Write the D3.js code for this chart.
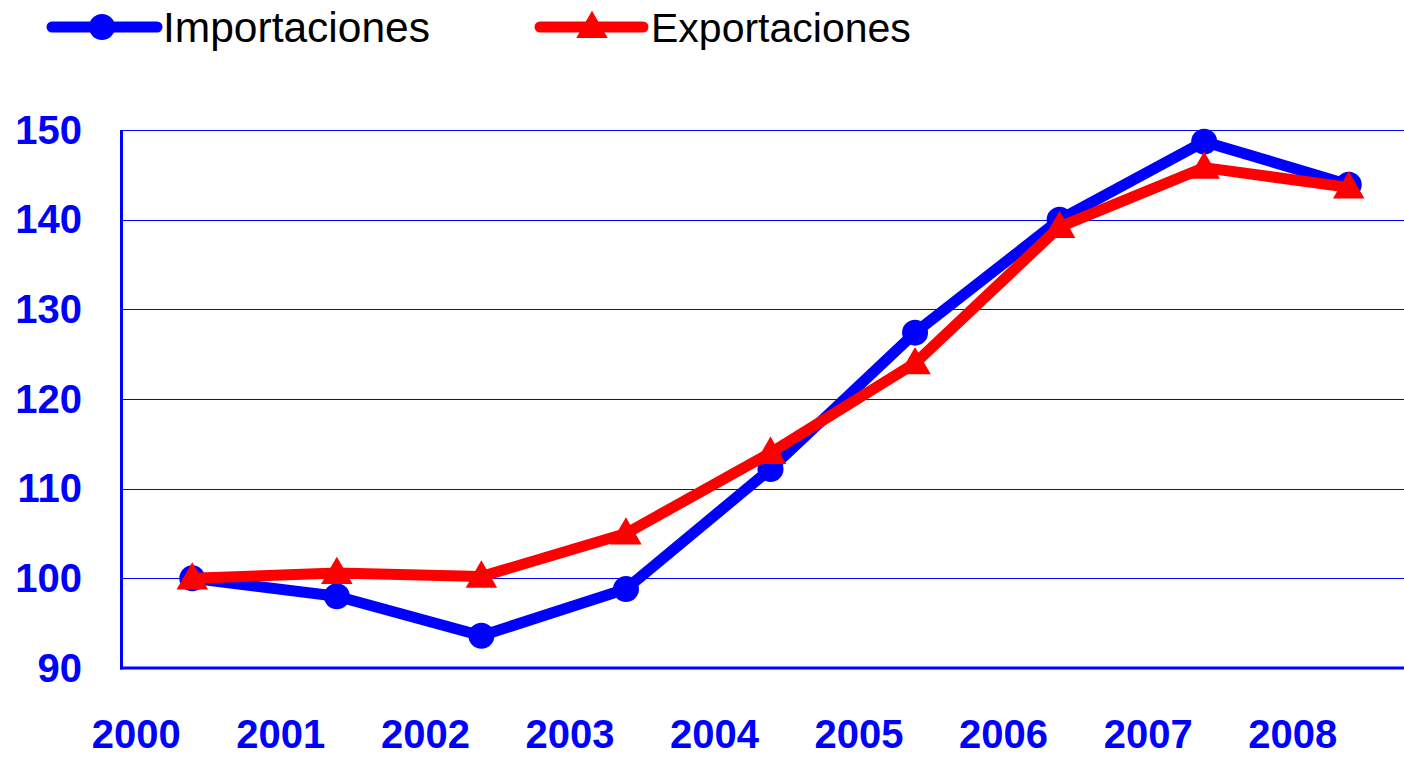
<!DOCTYPE html>
<html>
<head>
<meta charset="utf-8">
<script src="https://cdn.jsdelivr.net/npm/d3@7"></script>
<style>
html,body{margin:0;padding:0;background:#fff;overflow:hidden;}
svg{display:block;}
</style>
</head>
<body>
<svg id="chart" width="1404" height="757"></svg>
<script>
const years = ["2000","2001","2002","2003","2004","2005","2006","2007","2008"];
const importaciones = [100.0, 98.0, 93.6, 98.8, 112.2, 127.4, 140.0, 148.7, 143.9];
const exportaciones = [100.0, 100.6, 100.2, 105.0, 114.0, 124.0, 139.2, 145.8, 143.6];
const yTicks = [90, 100, 110, 120, 130, 140, 150];
const seriesNames = ["Importaciones", "Exportaciones"];

const svg = d3.select("#chart");
const plotLeft = 120, plotRight = 1421, plotTop = 130, plotBottom = 668;
const blue = "#0000ff", red = "#ff0000";

const x = d3.scaleBand().domain(years).range([plotLeft, plotRight]);
const xc = d => x(d) + x.bandwidth() / 2;
const y = d3.scaleLinear().domain([90, 150]).range([plotBottom, plotTop]);

// gridlines
svg.append("g").selectAll("line").data(yTicks.filter(t => t > 90)).join("line")
  .attr("x1", plotLeft).attr("x2", 1404)
  .attr("y1", d => Math.round(y(d)) + 0.5).attr("y2", d => Math.round(y(d)) + 0.5)
  .attr("stroke", blue).attr("stroke-width", 1.2);

// y axis labels
const yAxis = d3.axisLeft(y).tickValues(yTicks).tickSize(0).tickPadding(38).tickFormat(d3.format("d"));
const yg = svg.append("g").attr("transform", `translate(${plotLeft},0)`).call(yAxis);
yg.select(".domain").remove();
yg.selectAll("text").attr("fill", blue).attr("font-family", "Liberation Sans, Arial, sans-serif")
  .attr("font-size", 40).attr("font-weight", "bold").attr("dy", "0.33em");

// axis lines
svg.append("line").attr("x1", plotLeft + 1.5).attr("x2", plotLeft + 1.5)
  .attr("y1", plotTop).attr("y2", plotBottom + 1.5).attr("stroke", blue).attr("stroke-width", 3);
svg.append("line").attr("x1", plotLeft).attr("x2", 1404)
  .attr("y1", plotBottom).attr("y2", plotBottom).attr("stroke", blue).attr("stroke-width", 3);

// x labels
svg.append("g").selectAll("text").data(years).join("text")
  .attr("x", d => xc(d) - 56).attr("y", 748)
  .attr("text-anchor", "middle").attr("fill", blue)
  .attr("font-family", "Liberation Sans, Arial, sans-serif")
  .attr("font-size", 40).attr("font-weight", "bold").text(d => d);

const line = d3.line().x((d, i) => xc(years[i])).y(d => y(d));
const tri = d3.symbol().type(d3.symbolTriangle).size(430);

// Importaciones
svg.append("path").datum(importaciones).attr("d", line)
  .attr("fill", "none").attr("stroke", blue).attr("stroke-width", 11).attr("stroke-linejoin", "round");
svg.append("g").selectAll("circle").data(importaciones).join("circle")
  .attr("cx", (d, i) => xc(years[i])).attr("cy", d => y(d)).attr("r", 13).attr("fill", blue);

// Exportaciones
svg.append("path").datum(exportaciones).attr("d", line)
  .attr("fill", "none").attr("stroke", red).attr("stroke-width", 11).attr("stroke-linejoin", "round");
svg.append("g").selectAll("path").data(exportaciones).join("path")
  .attr("d", tri).attr("transform", (d, i) => `translate(${xc(years[i])},${y(d) + 2})`).attr("fill", red);

// legend
const lg = svg.append("g");
const legendItems = [
  {name: seriesNames[0], color: blue, x1: 52, x2: 157, mx: 102, text: 163, marker: "circle", fs: 42.5},
  {name: seriesNames[1], color: red, x1: 540, x2: 643, mx: 592, text: 651, marker: "tri", fs: 41}
];
legendItems.forEach(it => {
  lg.append("line").attr("x1", it.x1).attr("x2", it.x2).attr("y1", 27).attr("y2", 27)
    .attr("stroke", it.color).attr("stroke-width", 11).attr("stroke-linecap", "round");
  if (it.marker === "circle") {
    lg.append("circle").attr("cx", it.mx).attr("cy", 27).attr("r", 13).attr("fill", it.color);
  } else {
    lg.append("path").attr("d", tri).attr("transform", `translate(${it.mx},${29})`).attr("fill", it.color);
  }
  lg.append("text").attr("x", it.text).attr("y", 42).attr("fill", "#000")
    .attr("font-family", "Liberation Sans, Arial, sans-serif").attr("font-size", it.fs).text(it.name);
});
</script>
</body>
</html>
